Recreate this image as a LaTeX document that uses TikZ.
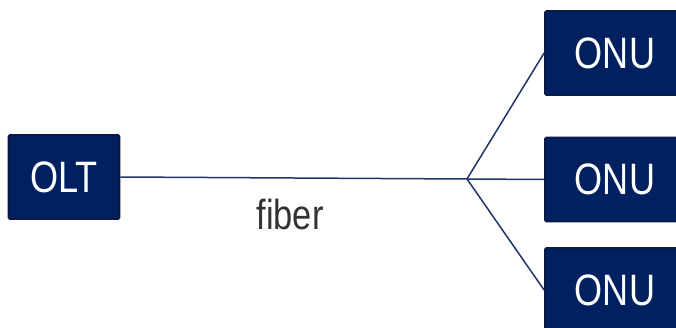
\documentclass[tikz,border=0pt]{standalone}
\usepackage{fontspec}
\setmainfont{Liberation Sans}
\newfontfamily\narrowfont{Liberation Sans}[FakeStretch=0.82]
\definecolor{navy}{HTML}{002060}
\definecolor{navyedge}{HTML}{0B1A45}
\definecolor{linkcol}{HTML}{1F3468}
\definecolor{txtgray}{HTML}{333333}
\begin{document}
\begin{tikzpicture}[x=1pt,y=-1pt,
  unitbox/.style={draw=navyedge,line width=1.8pt,fill=navy,rounded corners=1.5pt,
    text=white,font=\narrowfont\fontsize{44}{44}\selectfont,inner sep=0pt,
    minimum height=84pt},
  link/.style={draw=linkcol,line width=1.5pt}]
\useasboundingbox (0,0) rectangle (676,328);
\clip (0,0) rectangle (676,328);
\node[unitbox,minimum width=111pt] (olt) at (64,177) {OLT};
\node[unitbox,minimum width=140pt] (onu1) at (615,53) {ONU};
\node[unitbox,minimum width=140pt] (onu2) at (615,179.5) {ONU};
\node[unitbox,minimum width=140pt] (onu3) at (615,290) {ONU};
\coordinate (split) at (467,179);
\draw[link] (olt.east) -- (split);
\draw[link] (split) -- (onu1.west);
\draw[link] (split) -- (onu2.west);
\draw[link] (split) -- (onu3.west);
\node[text=txtgray,font=\narrowfont\fontsize{42}{42}\selectfont,inner sep=0pt] (fib) at (290,214) {fiber};
\end{tikzpicture}
\end{document}
